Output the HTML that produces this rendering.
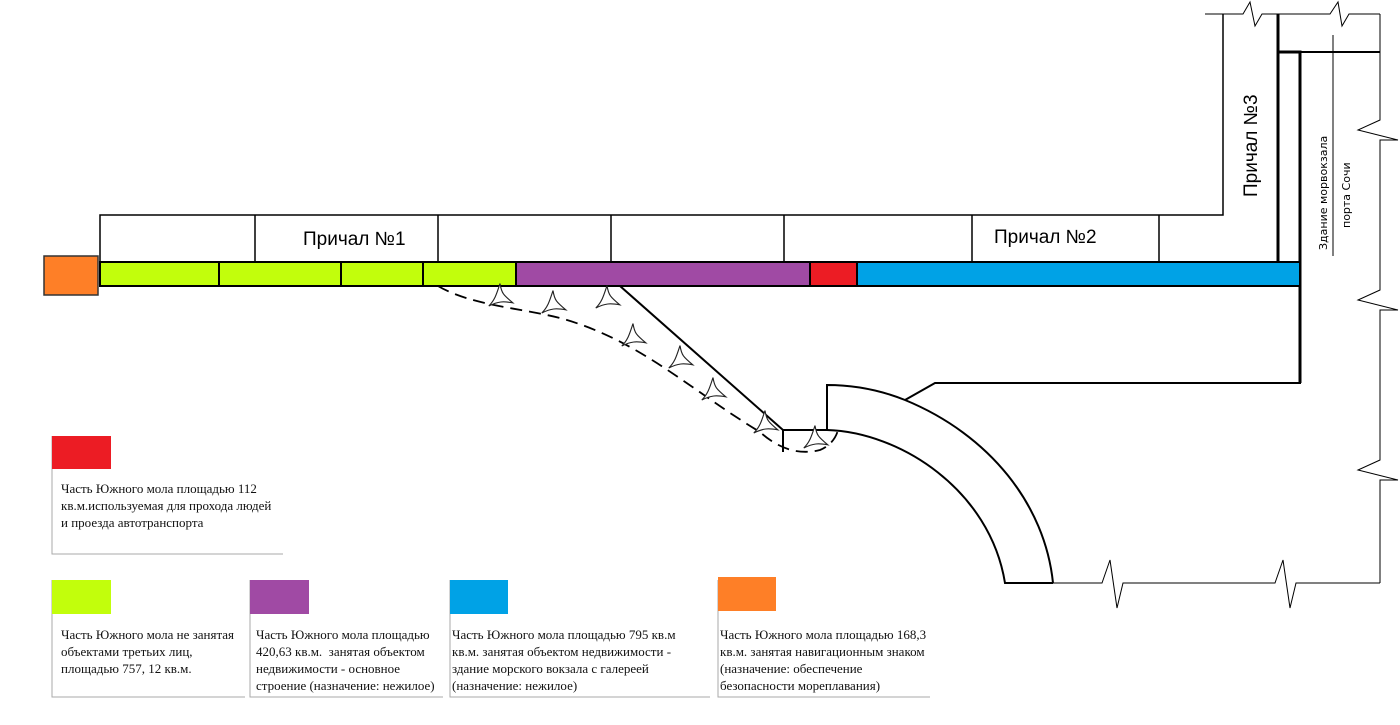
<!DOCTYPE html>
<html><head><meta charset="utf-8"><style>
body{margin:0;background:#fff;}
.t{position:absolute;font-family:"Liberation Serif",serif;font-size:13px;line-height:17px;color:#111;}
</style></head><body>
<div style="position:relative;width:1400px;height:725px;overflow:hidden">
<svg width="1400" height="725" style="position:absolute;left:0;top:0" xmlns="http://www.w3.org/2000/svg">
<defs>
<path id="tp" transform="scale(1.6)" d="M0,-9 C1,-3 2,-2 8,3 C2,2 -1,2 -7,5 C-3,1 -2,-3 0,-9 Z" fill="#fff" stroke="#222" stroke-width="0.7"/>
</defs>
<g stroke="#000" fill="none" stroke-width="1.5">
<polyline points="100,262 100,215 1223,215 1223,14"/>
<line x1="255" y1="215" x2="255" y2="262"/>
<line x1="438" y1="215" x2="438" y2="262"/>
<line x1="611" y1="215" x2="611" y2="262"/>
<line x1="784" y1="215" x2="784" y2="262"/>
<line x1="972" y1="215" x2="972" y2="262"/>
<line x1="1159" y1="215" x2="1159" y2="262"/>
</g>
<g stroke="#000" fill="none" stroke-width="1">
<polyline points="1205,14 1243,14 1250,2 1255,26 1262,14 1330,14 1338,2 1342,26 1349,14 1380,14"/>
<line x1="1333" y1="35" x2="1333" y2="256"/>
<polyline points="1380,14 1380,120 1358,130 1398,140 1380,140 1380,290 1358,300 1398,310 1380,310 1380,460 1358,470 1398,480 1380,480 1380,583"/>
<polyline points="1053,583 1102,583 1110,560 1117,608 1123,583 1275,583 1283,560 1290,608 1296,583 1380,583"/>
</g>
<g stroke="#000" fill="none" stroke-width="3">
<line x1="1278" y1="14" x2="1278" y2="262"/>
<polyline points="1278,52 1300,52 1300,383"/>
</g>
<line x1="1300" y1="52" x2="1380" y2="52" stroke="#000" stroke-width="2"/>
<rect x="100" y="262" width="416" height="24" fill="#c2fe0c"/>
<rect x="516" y="262" width="294" height="24" fill="#a04aa4"/>
<rect x="810" y="262" width="47" height="24" fill="#ec1c24"/>
<rect x="857" y="262" width="443" height="24" fill="#00a2e6"/>
<g stroke="#000" stroke-width="2" fill="none">
<rect x="100" y="262" width="1200" height="24"/>
<line x1="219" y1="262" x2="219" y2="286"/>
<line x1="341" y1="262" x2="341" y2="286"/>
<line x1="423" y1="262" x2="423" y2="286"/>
<line x1="516" y1="262" x2="516" y2="286"/>
<line x1="810" y1="262" x2="810" y2="286"/>
<line x1="857" y1="262" x2="857" y2="286"/>
</g>
<rect x="44" y="256" width="54" height="39" fill="#fe7f27" stroke="#333" stroke-width="1.5"/>
<g stroke="#000" fill="none" stroke-width="2">
<polyline points="1300,286 1300,383 935,383 905,400"/>
<path d="M827,430 L827,385 C860,385 885,392 905,400 C990,435 1045,505 1053,583"/>
<path d="M783,430 L827,430 C900,432 990,490 1005,583 L1053,583"/>
<line x1="620" y1="286" x2="783" y2="430"/>
<line x1="783" y1="430" x2="783" y2="452"/>
</g>
<path d="M438,286 C470,305 520,308 560,318 C640,340 690,390 760,432 C780,450 800,455 820,450 C830,446 836,438 838,430" stroke="#000" fill="none" stroke-width="1.8" stroke-dasharray="12,7"/>
<use href="#tp" x="500" y="298"/>
<use href="#tp" x="553" y="305"/>
<use href="#tp" x="607" y="300"/>
<use href="#tp" x="633" y="338"/>
<use href="#tp" x="680" y="360"/>
<use href="#tp" x="713" y="392"/>
<use href="#tp" x="765" y="425"/>
<use href="#tp" x="815" y="440"/>
<text x="303" y="245" font-family="Liberation Sans, sans-serif" font-size="19">Причал №1</text>
<text x="994" y="243" font-family="Liberation Sans, sans-serif" font-size="19">Причал №2</text>
<text transform="translate(1257,197) rotate(-90)" font-family="Liberation Sans, sans-serif" font-size="19">Причал №3</text>
<text transform="translate(1327,250) rotate(-90)" font-family="DejaVu Sans, sans-serif" font-size="11">Здание морвокзала</text>
<text transform="translate(1350,228) rotate(-90)" font-family="DejaVu Sans, sans-serif" font-size="11">порта Сочи</text>
<g stroke="#aaa" stroke-width="1" fill="none">
<polyline points="52,436 52,554 283,554"/>
<polyline points="52,580 52,697 245,697"/>
<polyline points="250,580 250,697 443,697"/>
<polyline points="450,580 450,697 710,697"/>
<polyline points="718,580 718,697 930,697"/>
</g>
<rect x="52" y="436" width="59" height="33" fill="#ec1c24"/>
<rect x="52" y="580" width="59" height="34" fill="#c2fe0c"/>
<rect x="250" y="580" width="59" height="34" fill="#a04aa4"/>
<rect x="450" y="580" width="58" height="34" fill="#00a2e6"/>
<rect x="718" y="577" width="58" height="34" fill="#fe7f27"/>
</svg>
<div class="t" style="left:61px;top:480px;width:214px">Часть Южного мола площадью 112 кв.м.используемая для прохода людей и проезда автотранспорта</div>
<div class="t" style="left:61px;top:626px;width:185px">Часть Южного мола не занятая объектами третьих лиц, площадью 757, 12 кв.м.</div>
<div class="t" style="left:256px;top:626px;width:190px">Часть Южного мола площадью 420,63 кв.м.&nbsp; занятая объектом недвижимости - основное строение (назначение: нежилое)</div>
<div class="t" style="left:452px;top:626px;width:240px">Часть Южного мола площадью 795 кв.м кв.м. занятая объектом недвижимости - здание морского вокзала с галереей (назначение: нежилое)</div>
<div class="t" style="left:720px;top:626px;width:215px">Часть Южного мола площадью 168,3 кв.м. занятая навигационным знаком (назначение: обеспечение безопасности мореплавания)</div>
</div>
</body></html>
